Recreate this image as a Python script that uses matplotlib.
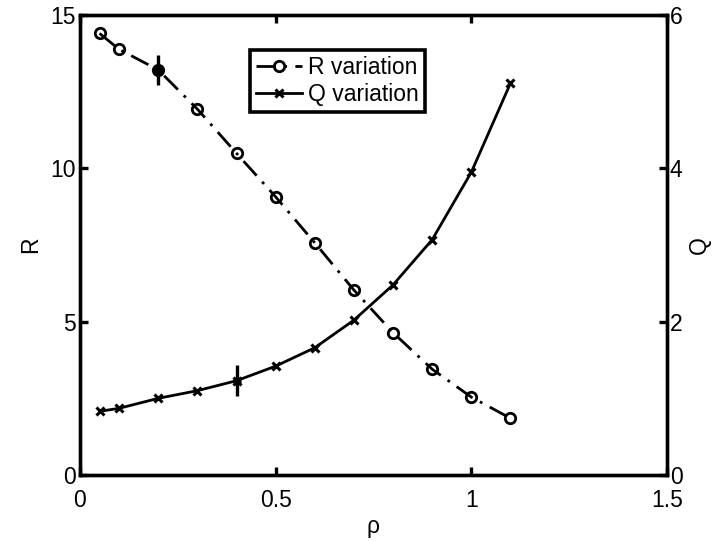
import matplotlib
matplotlib.use("Agg")
import matplotlib.pyplot as plt
from matplotlib.lines import Line2D

plt.rcParams['font.family'] = ['Liberation Sans', 'DejaVu Sans']

rho = [0.05, 0.1, 0.2, 0.3, 0.4, 0.5, 0.6, 0.7, 0.8, 0.9, 1.0, 1.1]
R_vals = [14.40, 13.88, 13.21, 11.93, 10.49, 9.07, 7.57, 6.03, 4.64, 3.45, 2.54, 1.85]
Q_vals = [0.83, 0.87, 1.00, 1.10, 1.23, 1.42, 1.66, 2.02, 2.48, 3.07, 3.95, 5.11]
R_err_x, R_err_y, R_err = 0.2, 13.21, 0.5
Q_err_x, Q_err_y, Q_err = 0.4, 1.23, 0.2

x_ticks = [0, 0.5, 1, 1.5]
x_ticklabels = ['0', '0.5', '1', '1.5']
R_ticks = [0, 5, 10, 15]
Q_ticks = [0, 2, 4, 6]

fs = 16.5
fig = plt.figure(figsize=(7.16, 5.41), dpi=100)
ax = fig.add_axes([80/716, 1-475/541, (667-80)/716, (475-15)/541])
ax2 = ax.twinx()

lw = 2.0
dashdot = (0, (7, 3, 1, 3))
ax.plot(rho, R_vals, color='black', lw=lw, linestyle=dashdot, marker='o',
        markersize=7.5, markerfacecolor='none', markeredgewidth=2.0, markeredgecolor='black')
ax.errorbar([R_err_x], [R_err_y], yerr=[R_err], fmt='o', color='black', markersize=6,
            elinewidth=2.4, capsize=0)
ax2.plot(rho, Q_vals, color='black', lw=lw, linestyle='-', marker='x',
         markersize=5.5, markeredgewidth=2.2)
ax2.errorbar([Q_err_x], [Q_err_y], yerr=[Q_err], fmt='o', color='black', markersize=5,
             elinewidth=2.4, capsize=0)

ax.set_xlim(0, 1.5)
ax.set_ylim(0, 15)
ax2.set_ylim(0, 6)
ax.set_xticks(x_ticks)
ax.set_xticklabels(x_ticklabels)
ax.set_yticks(R_ticks)
ax2.set_yticks(Q_ticks)

for a in (ax, ax2):
    for s in a.spines.values():
        s.set_linewidth(2.4)
ax.tick_params(axis='x', direction='in', top=True, length=6, width=2.4, labelsize=fs, pad=10)
ax.tick_params(axis='y', direction='in', right=False, length=6, width=2.4, labelsize=fs, pad=3)
ax2.tick_params(axis='y', direction='in', length=6, width=2.4, labelsize=fs, pad=2)

ax.set_xlabel('ρ', fontsize=fs, labelpad=2)
ax.set_ylabel('R', fontsize=fs, labelpad=6)
ax2.set_ylabel('Q', fontsize=fs, labelpad=4)

handles = [
    Line2D([], [], color='black', lw=lw, linestyle=dashdot, marker='o', markersize=7.5,
           markerfacecolor='none', markeredgewidth=2.0),
    Line2D([], [], color='black', lw=lw, linestyle='-', marker='x', markersize=5.5,
           markeredgewidth=2.2),
]
leg = ax2.legend(handles, ['R variation', 'Q variation'], loc='upper left',
                 bbox_to_anchor=((250-80)/587, (475-50)/460), fontsize=fs,
                 frameon=True, fancybox=False, framealpha=1, edgecolor='black',
                 borderpad=0.25, labelspacing=0.2, handlelength=2.0, handletextpad=0.3,
                 borderaxespad=0)
leg.get_frame().set_linewidth(2.6)

fig.savefig('out.png', dpi=100)
